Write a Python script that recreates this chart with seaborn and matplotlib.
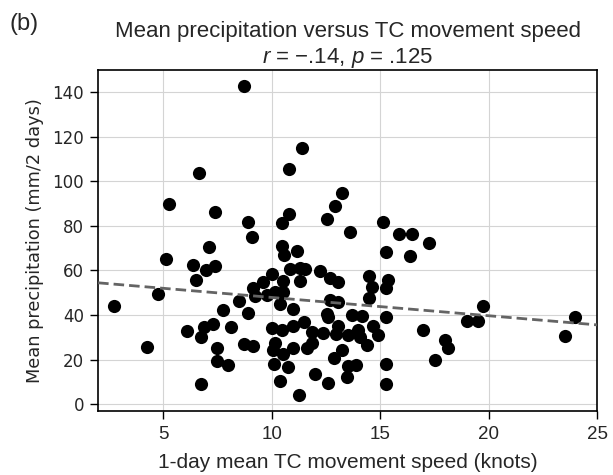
import numpy as np
import pandas as pd
import matplotlib
matplotlib.use("Agg")
import matplotlib.pyplot as plt
import seaborn as sns

# 1-day mean TC movement speed (knots)
speed = [8.74, 6.63, 5.26, 7.37, 8.9, 9.1, 11.39, 10.78, 13.26, 12.91,
         12.53, 10.78, 10.5, 13.62, 15.14, 15.89, 16.49, 17.26, 19.76, 19.02,
         19.53, 18.0, 18.15, 17.52, 23.99, 23.5, 2.74, 4.26, 4.74, 5.14,
         6.37, 7.13, 7.4, 6.98, 6.5, 6.12, 6.87, 7.29, 6.74, 7.75,
         8.13, 7.5, 7.47, 8.01, 6.74, 8.5, 8.93, 8.73, 9.13, 9.12,
         9.24, 9.62, 9.78, 10.5, 10.59, 11.16, 15.26, 16.38, 10.85, 11.31,
         11.54, 12.23, 10.01, 10.54, 11.31, 12.7, 13.08, 14.49, 15.38, 14.62,
         15.28, 10.54, 12.7, 13.04, 14.5, 10.39, 11.0, 12.54, 12.59, 13.7,
         14.16, 15.28, 10.0, 10.47, 10.97, 11.47, 11.85, 12.36, 13.08, 12.97,
         13.54, 14.0, 14.08, 14.69, 14.92, 14.39, 10.16, 10.08, 10.54, 11.0,
         11.65, 11.85, 13.23, 12.88, 10.12, 10.77, 13.54, 13.89, 15.26, 10.39,
         12.0, 12.62, 13.49, 15.26, 11.27, 16.96, 10.16]

# mean precipitation (mm/2 days)
precip = [142.7, 103.9, 89.6, 86.2, 81.6, 75.0, 115.1, 105.4, 94.8, 89.1,
          83.0, 85.3, 81.2, 77.1, 81.7, 76.4, 76.4, 72.4, 43.9, 37.2,
          37.2, 29.0, 25.2, 19.7, 39.2, 30.5, 43.9, 25.7, 49.3, 65.2,
          62.6, 70.5, 62.2, 60.4, 55.6, 32.9, 34.7, 35.9, 30.2, 42.2,
          34.5, 25.2, 19.4, 17.4, 9.1, 46.2, 40.9, 26.9, 26.0, 52.2,
          48.4, 54.9, 48.9, 70.9, 67.1, 68.7, 68.3, 66.5, 60.8, 61.3,
          60.8, 59.8, 58.3, 55.3, 55.3, 56.4, 54.9, 57.4, 55.6, 52.6,
          51.9, 50.4, 46.9, 45.9, 47.8, 44.8, 42.9, 40.4, 38.9, 40.2,
          39.5, 38.9, 34.4, 33.2, 35.0, 36.9, 32.4, 32.0, 35.0, 31.4,
          30.9, 33.2, 30.2, 35.0, 30.9, 26.5, 27.5, 24.5, 22.4, 25.0,
          25.0, 27.5, 24.2, 20.5, 17.9, 16.7, 17.0, 17.5, 17.9, 10.5,
          13.5, 9.7, 12.0, 9.0, 4.0, 33.5, 50.4]

df = pd.DataFrame({"speed": speed, "precip": precip})

sns.set_style("ticks", {"axes.grid": True, "grid.color": "#d4d4d4",
                        "axes.edgecolor": "black"})
plt.rcParams["font.family"] = ["DejaVu Sans"]
plt.rcParams["mathtext.fontset"] = "custom"
plt.rcParams["mathtext.it"] = "Liberation Sans:italic"
plt.rcParams["mathtext.rm"] = "Liberation Sans"

fig = plt.figure(figsize=(6.13, 4.75), dpi=100)
ax = fig.add_axes([0.160, 0.135, 0.814, 0.718])

sns.scatterplot(data=df, x="speed", y="precip", color="black", s=90,
                edgecolor="black", linewidth=0, ax=ax, zorder=3)

# least squares line across the whole axis
xlim = (2, 25)
slope, icpt = np.polyfit(df.speed, df.precip, 1)
xx = np.array(xlim)
ax.plot(xx, icpt + slope * xx, ls=(0, (3.8, 1.8)), color="#646464", lw=2.0, zorder=4)

ax.set_xlim(*xlim)
ax.set_ylim(-3, 150)
ax.set_xticks([5, 10, 15, 20, 25])
ax.set_yticks(range(0, 141, 20))
for s in ax.spines.values():
    s.set_linewidth(1.2)
ax.tick_params(axis="both", direction="out", length=6, width=1.0, color="black")
ax.tick_params(axis="x", labelsize=13.5, pad=5)
ax.tick_params(axis="y", labelsize=12, pad=4)
for lab in ax.get_xticklabels():
    lab.set_fontfamily("Liberation Sans")

ax.set_xlabel("1-day mean TC movement speed (knots)", fontsize=15,
              family="Liberation Sans", labelpad=7)
ax.set_ylabel("Mean precipitation (mm/2 days)", fontsize=12.8, labelpad=6)
ax.set_title("Mean precipitation versus TC movement speed\n"
             "$r$ = \u2212.14, $p$ = .125", fontsize=16,
             family="Liberation Sans", pad=5)
fig.text(0.016, 0.937, "(b)", fontsize=17, family="Liberation Sans")

fig.savefig("out.png", dpi=100)
